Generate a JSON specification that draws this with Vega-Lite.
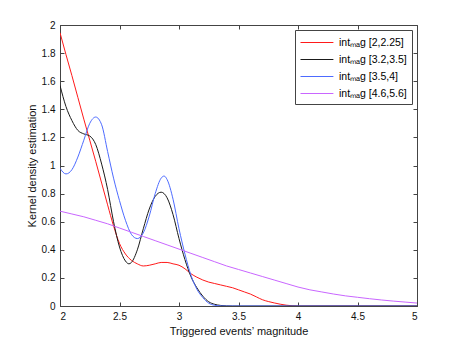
{
  "$schema": "https://vega.github.io/schema/vega-lite/v6.json",
  "width": 357,
  "height": 281,
  "autosize": "none",
  "padding": {"left": 60, "top": 25, "right": 43, "bottom": 40},
  "background": "white",
  "config": {
    "font": "Liberation Sans",
    "view": {"stroke": "#444", "strokeWidth": 1},
    "axis": {"domainColor": "#444", "tickColor": "#444", "labelColor": "#111", "titleColor": "#111", "labelFont": "Liberation Sans", "titleFont": "Liberation Sans", "labelFontSize": 10, "titleFontSize": 11, "titleFontWeight": "normal", "grid": false, "tickSize": -4, "labelPadding": 9}
  },
  "datasets": {
    "d": [
      {"x": 2.00, "y": 1.945, "s": "r"}, {"x": 2.05, "y": 1.79, "s": "r"}, {"x": 2.10, "y": 1.64, "s": "r"}, {"x": 2.15, "y": 1.485, "s": "r"}, {"x": 2.20, "y": 1.33, "s": "r"}, {"x": 2.25, "y": 1.18, "s": "r"}, {"x": 2.30, "y": 1.03, "s": "r"}, {"x": 2.35, "y": 0.875, "s": "r"}, {"x": 2.40, "y": 0.72, "s": "r"}, {"x": 2.45, "y": 0.57, "s": "r"}, {"x": 2.50, "y": 0.445, "s": "r"}, {"x": 2.55, "y": 0.37, "s": "r"}, {"x": 2.60, "y": 0.325, "s": "r"}, {"x": 2.65, "y": 0.30, "s": "r"}, {"x": 2.70, "y": 0.285, "s": "r"}, {"x": 2.75, "y": 0.29, "s": "r"}, {"x": 2.80, "y": 0.30, "s": "r"}, {"x": 2.85, "y": 0.31, "s": "r"}, {"x": 2.90, "y": 0.31, "s": "r"}, {"x": 2.95, "y": 0.30, "s": "r"}, {"x": 3.00, "y": 0.29, "s": "r"}, {"x": 3.05, "y": 0.265, "s": "r"}, {"x": 3.10, "y": 0.23, "s": "r"}, {"x": 3.15, "y": 0.205, "s": "r"}, {"x": 3.20, "y": 0.185, "s": "r"}, {"x": 3.25, "y": 0.17, "s": "r"}, {"x": 3.30, "y": 0.16, "s": "r"}, {"x": 3.35, "y": 0.15, "s": "r"}, {"x": 3.40, "y": 0.14, "s": "r"}, {"x": 3.45, "y": 0.13, "s": "r"}, {"x": 3.50, "y": 0.115, "s": "r"}, {"x": 3.55, "y": 0.10, "s": "r"}, {"x": 3.60, "y": 0.085, "s": "r"}, {"x": 3.65, "y": 0.065, "s": "r"}, {"x": 3.70, "y": 0.045, "s": "r"}, {"x": 3.75, "y": 0.032, "s": "r"}, {"x": 3.80, "y": 0.022, "s": "r"}, {"x": 3.85, "y": 0.013, "s": "r"}, {"x": 3.90, "y": 0.006, "s": "r"}, {"x": 3.95, "y": 0.002, "s": "r"}, {"x": 4.00, "y": 0, "s": "r"}, {"x": 4.50, "y": 0, "s": "r"}, {"x": 5.00, "y": 0, "s": "r"},

      {"x": 2.00, "y": 1.57, "s": "k"}, {"x": 2.05, "y": 1.42, "s": "k"}, {"x": 2.10, "y": 1.32, "s": "k"}, {"x": 2.15, "y": 1.25, "s": "k"}, {"x": 2.20, "y": 1.225, "s": "k"}, {"x": 2.25, "y": 1.21, "s": "k"}, {"x": 2.30, "y": 1.15, "s": "k"}, {"x": 2.35, "y": 1.01, "s": "k"}, {"x": 2.40, "y": 0.83, "s": "k"}, {"x": 2.45, "y": 0.60, "s": "k"}, {"x": 2.50, "y": 0.42, "s": "k"}, {"x": 2.55, "y": 0.32, "s": "k"}, {"x": 2.58, "y": 0.30, "s": "k"}, {"x": 2.60, "y": 0.31, "s": "k"}, {"x": 2.65, "y": 0.40, "s": "k"}, {"x": 2.70, "y": 0.55, "s": "k"}, {"x": 2.75, "y": 0.69, "s": "k"}, {"x": 2.80, "y": 0.78, "s": "k"}, {"x": 2.85, "y": 0.81, "s": "k"}, {"x": 2.90, "y": 0.77, "s": "k"}, {"x": 2.95, "y": 0.65, "s": "k"}, {"x": 3.00, "y": 0.48, "s": "k"}, {"x": 3.05, "y": 0.33, "s": "k"}, {"x": 3.10, "y": 0.21, "s": "k"}, {"x": 3.15, "y": 0.13, "s": "k"}, {"x": 3.20, "y": 0.07, "s": "k"}, {"x": 3.25, "y": 0.03, "s": "k"}, {"x": 3.30, "y": 0.012, "s": "k"}, {"x": 3.35, "y": 0.004, "s": "k"}, {"x": 3.40, "y": 0.001, "s": "k"}, {"x": 3.45, "y": 0, "s": "k"}, {"x": 4.00, "y": 0, "s": "k"}, {"x": 5.00, "y": 0, "s": "k"},

      {"x": 2.00, "y": 0.98, "s": "b"}, {"x": 2.05, "y": 0.94, "s": "b"}, {"x": 2.10, "y": 0.97, "s": "b"}, {"x": 2.15, "y": 1.06, "s": "b"}, {"x": 2.20, "y": 1.18, "s": "b"}, {"x": 2.25, "y": 1.30, "s": "b"}, {"x": 2.30, "y": 1.345, "s": "b"}, {"x": 2.35, "y": 1.29, "s": "b"}, {"x": 2.40, "y": 1.10, "s": "b"}, {"x": 2.45, "y": 0.91, "s": "b"}, {"x": 2.50, "y": 0.75, "s": "b"}, {"x": 2.55, "y": 0.61, "s": "b"}, {"x": 2.60, "y": 0.51, "s": "b"}, {"x": 2.65, "y": 0.48, "s": "b"}, {"x": 2.70, "y": 0.52, "s": "b"}, {"x": 2.75, "y": 0.64, "s": "b"}, {"x": 2.80, "y": 0.80, "s": "b"}, {"x": 2.85, "y": 0.91, "s": "b"}, {"x": 2.875, "y": 0.925, "s": "b"}, {"x": 2.90, "y": 0.90, "s": "b"}, {"x": 2.95, "y": 0.76, "s": "b"}, {"x": 3.00, "y": 0.55, "s": "b"}, {"x": 3.05, "y": 0.37, "s": "b"}, {"x": 3.10, "y": 0.22, "s": "b"}, {"x": 3.15, "y": 0.12, "s": "b"}, {"x": 3.20, "y": 0.06, "s": "b"}, {"x": 3.25, "y": 0.02, "s": "b"}, {"x": 3.30, "y": 0.005, "s": "b"}, {"x": 3.35, "y": 0.001, "s": "b"}, {"x": 3.40, "y": 0, "s": "b"}, {"x": 4.00, "y": 0, "s": "b"}, {"x": 5.00, "y": 0, "s": "b"},

      {"x": 2.0, "y": 0.675, "s": "m"}, {"x": 2.1, "y": 0.655, "s": "m"}, {"x": 2.2, "y": 0.635, "s": "m"}, {"x": 2.3, "y": 0.61, "s": "m"}, {"x": 2.4, "y": 0.585, "s": "m"}, {"x": 2.5, "y": 0.555, "s": "m"}, {"x": 2.6, "y": 0.525, "s": "m"}, {"x": 2.7, "y": 0.495, "s": "m"}, {"x": 2.8, "y": 0.465, "s": "m"}, {"x": 2.9, "y": 0.435, "s": "m"}, {"x": 3.0, "y": 0.405, "s": "m"}, {"x": 3.1, "y": 0.375, "s": "m"}, {"x": 3.2, "y": 0.345, "s": "m"}, {"x": 3.3, "y": 0.315, "s": "m"}, {"x": 3.4, "y": 0.285, "s": "m"}, {"x": 3.5, "y": 0.26, "s": "m"}, {"x": 3.6, "y": 0.235, "s": "m"}, {"x": 3.7, "y": 0.21, "s": "m"}, {"x": 3.8, "y": 0.185, "s": "m"}, {"x": 3.9, "y": 0.16, "s": "m"}, {"x": 4.0, "y": 0.135, "s": "m"}, {"x": 4.1, "y": 0.115, "s": "m"}, {"x": 4.2, "y": 0.10, "s": "m"}, {"x": 4.3, "y": 0.085, "s": "m"}, {"x": 4.4, "y": 0.072, "s": "m"}, {"x": 4.5, "y": 0.062, "s": "m"}, {"x": 4.6, "y": 0.052, "s": "m"}, {"x": 4.7, "y": 0.043, "s": "m"}, {"x": 4.8, "y": 0.035, "s": "m"}, {"x": 4.9, "y": 0.028, "s": "m"}, {"x": 5.0, "y": 0.021, "s": "m"}
    ]
  },
  "data": {"name": "d"},
  "layer": [
    {
      "mark": {"type": "line", "strokeWidth": 1, "interpolate": "monotone", "clip": true},
      "encoding": {
        "x": {"field": "x", "type": "quantitative", "scale": {"domain": [2, 5], "nice": false, "zero": false},
              "axis": {"values": [2, 2.5, 3, 3.5, 4, 4.5, 5], "format": ".1~f", "title": "Triggered events\u2019 magnitude", "titlePadding": 4, "orient": "bottom"}},
        "y": {"field": "y", "type": "quantitative", "scale": {"domain": [0, 2], "nice": false},
              "axis": {"values": [0, 0.2, 0.4, 0.6, 0.8, 1, 1.2, 1.4, 1.6, 1.8, 2], "format": ".1~f", "title": "Kernel density estimation", "titlePadding": 4, "orient": "left"}},
        "color": {"field": "s", "type": "nominal",
          "scale": {"domain": ["r", "k", "b", "m"], "range": ["#ff1a1a", "#1a1a1a", "#4d6bff", "#c966ff"]},
          "legend": {"orient": "top-right", "offset": 5, "title": null, "strokeColor": "#444", "fillColor": "white", "padding": 5,
                     "labelExpr": "datum.value == 'r' ? 'int\u2098\u2090g [2,2.25]' : datum.value == 'k' ? 'int\u2098\u2090g [3.2,3.5]' : datum.value == 'b' ? 'int\u2098\u2090g [3.5,4]' : 'int\u2098\u2090g [4.6,5.6]'",
                     "labelFontSize": 10.5, "labelFont": "Liberation Sans", "symbolType": "M-1,0H3.7", "symbolSize": 196, "symbolStrokeWidth": 1, "rowPadding": 4, "labelOffset": 24}}
      }
    },
    {
      "mark": {"type": "line", "opacity": 0, "clip": true},
      "encoding": {
        "x": {"field": "x", "type": "quantitative", "axis": {"orient": "top", "values": [2, 2.5, 3, 3.5, 4, 4.5, 5], "labels": false, "title": null, "domain": false}},
        "y": {"field": "y", "type": "quantitative", "axis": {"orient": "right", "values": [0, 0.2, 0.4, 0.6, 0.8, 1, 1.2, 1.4, 1.6, 1.8, 2], "labels": false, "title": null, "domain": false}},
        "detail": {"field": "s"}
      }
    }
  ],
  "resolve": {"axis": {"x": "independent", "y": "independent"}}
}
